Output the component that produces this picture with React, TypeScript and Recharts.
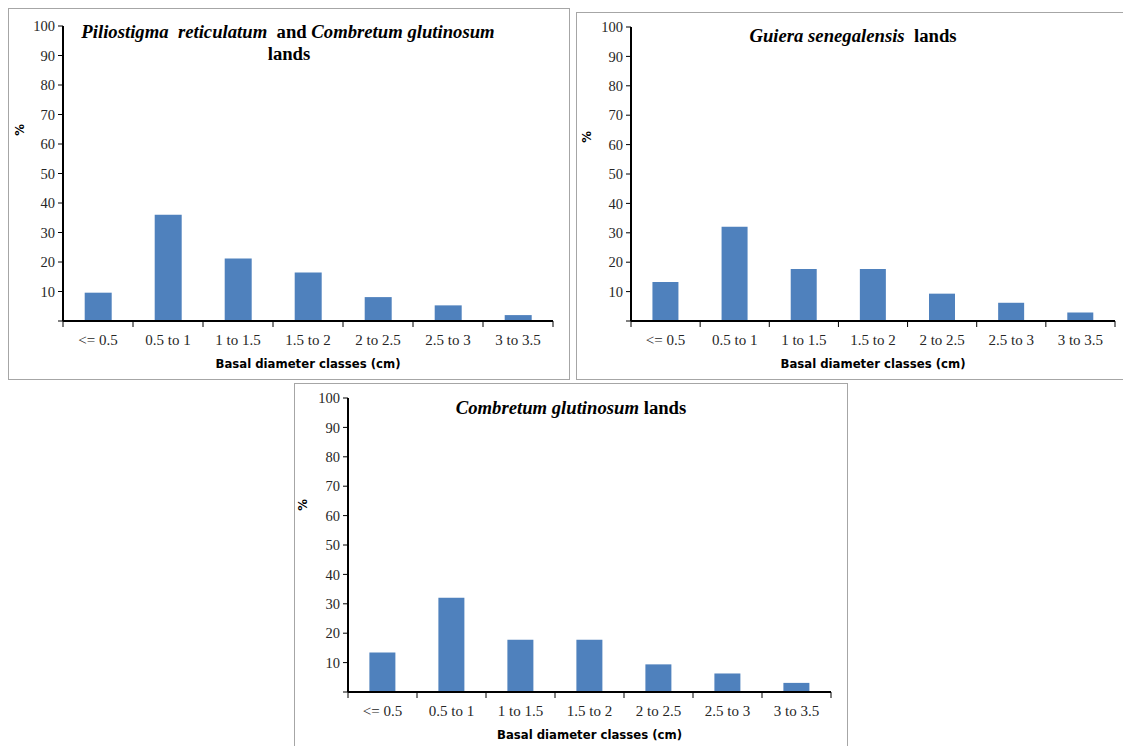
import React from 'react';
import { BarChart, Bar, XAxis, YAxis, Label } from 'recharts';

// basal diameter classes (cm)
const classes = ['<= 0.5', '0.5 to 1', '1 to 1.5', '1.5 to 2', '2 to 2.5', '2.5 to 3', '3 to 3.5'];

// % of stems per class
const piliostigmaCombretum = [9.6, 36, 21.2, 16.4, 8.1, 5.3, 2.0];
const guiera = [13.3, 32.1, 17.7, 17.7, 9.3, 6.2, 2.9];
const combretum = [13.4, 32.1, 17.8, 17.8, 9.4, 6.3, 3.1];

const yTicks = [0, 10, 20, 30, 40, 50, 60, 70, 80, 90, 100];

const BAR = '#4F81BD';
const SERIF = '"Liberation Serif", "Times New Roman", serif';
const NARROW = '"Liberation Sans Narrow", "DejaVu Sans Condensed", Arial, sans-serif';

const Y_AXIS_W = 40;
const X_AXIS_H = 50;

// category label plus tick marks on the class boundaries
// eslint-disable-next-line @typescript-eslint/no-explicit-any
function ClassTick(props: any) {
    const { x, y, payload, index, visibleTicksCount, width } = props;
    const half = payload.offset ? payload.offset : width / visibleTicksCount / 2;
    const last = index === visibleTicksCount - 1;
    return (
        <g>
            <line x1={x - half} x2={x - half} y1={y} y2={y + 6} stroke="#000" strokeWidth={1} />
            {last && <line x1={x + half} x2={x + half} y1={y} y2={y + 6} stroke="#000" strokeWidth={1} />}
            <text x={x} y={y + 24} textAnchor="middle" fontFamily={SERIF} fontSize={15} fill="#262626">
                {payload.value}
            </text>
        </g>
    );
}

interface Box { left: number; top: number; width: number; height: number }
interface Plot { left: number; top: number; right: number; bottom: number }

function Panel({ box, plot, values, pctAt, border }: {
    box: Box; plot: Plot; values: number[]; pctAt: [number, number]; border: React.CSSProperties;
}) {
    const data = classes.map((c, i) => ({ cls: c, pct: values[i] }));
    const margin = {
        top: plot.top - box.top,
        right: box.left + box.width - plot.right,
        left: plot.left - box.left - Y_AXIS_W,
        bottom: box.top + box.height - plot.bottom - X_AXIS_H,
    };
    return (
        <>
            <div
                style={{
                    position: 'absolute', left: box.left, top: box.top, width: box.width, height: box.height,
                    boxSizing: 'border-box', ...border,
                }}
            />
            <div style={{ position: 'absolute', left: box.left, top: box.top }}>
                <BarChart width={box.width} height={box.height} data={data} margin={margin} barCategoryGap="31%">
                    <XAxis
                        dataKey="cls"
                        height={X_AXIS_H}
                        interval={0}
                        tickSize={0}
                        tickMargin={0}
                        tickLine={false}
                        axisLine={{ stroke: '#000', strokeWidth: 2 }}
                        tick={(p) => <ClassTick {...p} />}
                    >
                        <Label
                            value="Basal diameter classes (cm)"
                            position="insideBottom"
                            offset={3}
                            style={{ fontFamily: NARROW, fontWeight: 'bold', fontSize: 13, fill: '#000' }}
                        />
                    </XAxis>
                    <YAxis
                        width={Y_AXIS_W}
                        domain={[0, 100]}
                        ticks={yTicks}
                        interval={0}
                        tickSize={5}
                        tickMargin={3}
                        tickLine={{ stroke: '#000' }}
                        axisLine={{ stroke: '#000', strokeWidth: 2 }}
                        tickFormatter={v => (v === 0 ? '' : String(v))}
                        tick={{ fontFamily: SERIF, fontSize: 14.5, fill: '#262626' }}
                    />
                    <Bar dataKey="pct" fill={BAR} isAnimationActive={false} />
                </BarChart>
            </div>
            <div
                style={{
                    position: 'absolute', left: pctAt[0] - 10, top: pctAt[1] - 8, width: 20, height: 16,
                    textAlign: 'center', lineHeight: '16px', transform: 'rotate(-90deg)',
                    fontFamily: NARROW, fontWeight: 'bold', fontSize: 13, color: '#000',
                }}
            >
                %
            </div>
        </>
    );
}

const titleStyle: React.CSSProperties = {
    position: 'absolute', fontFamily: SERIF, fontWeight: 'bold', fontSize: 18.7, color: '#000',
    whiteSpace: 'nowrap', transform: 'translate(-50%, -50%)', lineHeight: '22px',
};

export default function App() {
    const grey = '1px solid #a6a6a6';
    return (
        <div style={{ position: 'absolute', left: 0, top: 0, width: 1123, height: 746, overflow: 'hidden', background: '#fff' }}>
            <Panel
                box={{ left: 8, top: 8, width: 562, height: 372 }}
                plot={{ left: 63, top: 26, right: 553, bottom: 321 }}
                values={piliostigmaCombretum}
                pctAt={[20, 130]}
                border={{ border: grey }}
            />
            <Panel
                box={{ left: 576, top: 12, width: 547, height: 368 }}
                plot={{ left: 631, top: 27, right: 1115, bottom: 321 }}
                values={guiera}
                pctAt={[587, 137]}
                border={{ borderLeft: grey, borderTop: grey, borderBottom: grey }}
            />
            <Panel
                box={{ left: 294, top: 383, width: 554, height: 363 }}
                plot={{ left: 348, top: 398, right: 831, bottom: 692 }}
                values={combretum}
                pctAt={[303, 505]}
                border={{ borderLeft: grey, borderTop: grey, borderRight: grey }}
            />

            <div style={{ ...titleStyle, left: 288, top: 32 }}>
                <i>Piliostigma&nbsp; reticulatum</i>&nbsp; and <i>Combretum glutinosum</i>
            </div>
            <div style={{ ...titleStyle, left: 289, top: 54 }}>lands</div>
            <div style={{ ...titleStyle, left: 853, top: 36 }}>
                <i>Guiera senegalensis</i>&nbsp; lands
            </div>
            <div style={{ ...titleStyle, left: 571, top: 408 }}>
                <i>Combretum glutinosum</i> lands
            </div>
        </div>
    );
}
